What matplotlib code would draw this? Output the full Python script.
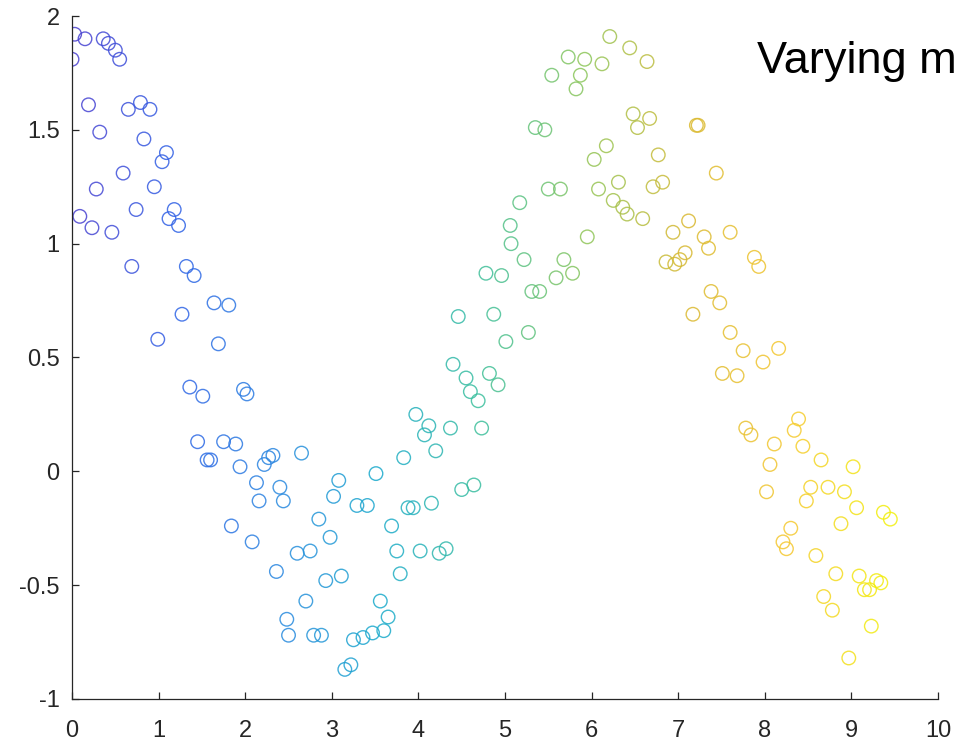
import numpy as np
import matplotlib
matplotlib.use("Agg")
import matplotlib.pyplot as plt
from matplotlib.colors import LinearSegmentedColormap, Normalize

# Messpunkte (x, y), 200 Stück
x_werte = [
    0.03, 0.15, 0.00, 0.36, 0.42, 0.50, 0.55, 0.19, 0.65, 0.79, 0.90, 0.32, 0.83, 1.09, 1.04, 0.59,
    0.95, 0.28, 0.74, 0.09, 1.18, 1.12, 1.23, 0.23, 0.46, 0.69, 1.32, 1.41, 1.64, 1.81, 1.27, 0.99,
    1.69,
    1.36, 1.51, 1.98, 2.02, 1.45, 1.75, 1.89, 1.56, 1.60, 1.94, 2.22, 2.27, 2.32, 2.13, 2.16, 2.40,
    2.44, 1.84, 2.08, 2.36, 2.48, 2.50,
    4.40, 4.55, 4.60, 4.69, 4.82, 4.92, 3.97, 4.12, 4.07, 4.37, 4.73, 4.20, 3.83, 3.51, 2.65, 3.08,
    3.02, 3.29, 3.41, 3.88, 3.94, 4.15, 4.50, 4.64, 2.85, 2.98, 3.69, 2.60, 2.75, 3.75, 4.02, 4.24,
    4.32, 2.93, 3.11, 3.79, 2.70, 2.79, 2.88, 3.56, 3.65, 3.60, 3.47, 3.36, 3.25, 3.15, 3.22,
    5.06, 5.07, 4.78, 4.96, 4.46, 4.87, 5.01,
    6.21, 6.44, 6.64, 5.73, 5.92, 6.12, 5.87, 5.54, 5.82, 5.35, 5.46, 6.48, 6.67, 6.53, 7.23, 7.21,
    6.17, 6.03, 6.77, 7.44, 5.50, 5.64, 6.08, 6.31, 6.71, 6.82, 6.25, 6.36, 6.41, 6.59, 5.17, 5.22,
    5.95, 5.68, 5.78, 5.59, 5.31, 5.40, 5.27, 6.94, 7.12, 7.30, 7.35, 7.60, 6.86, 6.96, 7.02, 7.08,
    7.38, 7.48, 7.17, 7.60,
    7.51, 7.88, 7.93, 7.75, 8.16,
    7.98, 7.68, 7.78, 7.84, 8.39, 8.34, 8.11, 8.44, 8.06, 8.65, 9.02, 8.02, 8.53, 8.73, 8.92, 8.48,
    9.06, 9.37, 9.45, 8.88, 8.30, 8.21, 8.25, 8.59, 8.82, 9.09, 9.29, 9.34, 9.15, 9.21, 8.68, 8.78,
    9.23, 8.97,
]
y_werte = [
    1.92, 1.90, 1.81, 1.90, 1.88, 1.85, 1.81, 1.61, 1.59, 1.62, 1.59, 1.49, 1.46, 1.40, 1.36, 1.31,
    1.25, 1.24, 1.15, 1.12, 1.15, 1.11, 1.08, 1.07, 1.05, 0.90, 0.90, 0.86, 0.74, 0.73, 0.69, 0.58,
    0.56,
    0.37, 0.33, 0.36, 0.34, 0.13, 0.13, 0.12, 0.05, 0.05, 0.02, 0.03, 0.06, 0.07, -0.05, -0.13, -0.07,
    -0.13, -0.24, -0.31, -0.44, -0.65, -0.72,
    0.47, 0.41, 0.35, 0.31, 0.43, 0.38, 0.25, 0.20, 0.16, 0.19, 0.19, 0.09, 0.06, -0.01, 0.08, -0.04,
    -0.11, -0.15, -0.15, -0.16, -0.16, -0.14, -0.08, -0.06, -0.21, -0.29, -0.24, -0.36, -0.35, -0.35, -0.35, -0.36,
    -0.34, -0.48, -0.46, -0.45, -0.57, -0.72, -0.72, -0.57, -0.64, -0.70, -0.71, -0.73, -0.74, -0.87, -0.85,
    1.08, 1.00, 0.87, 0.86, 0.68, 0.69, 0.57,
    1.91, 1.86, 1.80, 1.82, 1.81, 1.79, 1.74, 1.74, 1.68, 1.51, 1.50, 1.57, 1.55, 1.51, 1.52, 1.52,
    1.43, 1.37, 1.39, 1.31, 1.24, 1.24, 1.24, 1.27, 1.25, 1.27, 1.19, 1.16, 1.13, 1.11, 1.18, 0.93,
    1.03, 0.93, 0.87, 0.85, 0.79, 0.79, 0.61, 1.05, 1.10, 1.03, 0.98, 1.05, 0.92, 0.91, 0.93, 0.96,
    0.79, 0.74, 0.69, 0.61,
    0.43, 0.94, 0.90, 0.53, 0.54,
    0.48, 0.42, 0.19, 0.16, 0.23, 0.18, 0.12, 0.11, 0.03, 0.05, 0.02, -0.09, -0.07, -0.07, -0.09, -0.13,
    -0.16, -0.18, -0.21, -0.23, -0.25, -0.31, -0.34, -0.37, -0.45, -0.46, -0.48, -0.49, -0.52, -0.52, -0.55, -0.61,
    -0.68, -0.82,
]

x_ticks = [0, 1, 2, 3, 4, 5, 6, 7, 8, 9, 10]
y_ticks = [-1, -0.5, 0, 0.5, 1, 1.5, 2]
y_tick_labels = ["-1", "-0.5", "0", "0.5", "1", "1.5", "2"]
titel = "Varying m"

# parula-aehnliche Farbskala (etwas heller)
parula = LinearSegmentedColormap.from_list("parula", [
    "#4a3fcf", "#2f62e6", "#2a88e0", "#1aaacc", "#3cbf9c",
    "#8cc65a", "#d8b830", "#f5c830", "#f2f00c"])

x = np.array(x_werte)
y = np.array(y_werte)
reihenfolge = np.argsort(x)
x, y = x[reihenfolge], y[reihenfolge]

plt.rcParams["font.family"] = ["Liberation Sans", "DejaVu Sans"]
plt.rcParams["axes.unicode_minus"] = False

fig = plt.figure(figsize=(9.58, 7.42), dpi=100)
ax = fig.add_axes([0.0752, 0.058, 0.9039, 0.9204])

farben = parula(Normalize(x.min(), x.max())(x))
ax.scatter(x, y, s=95, facecolors="none", edgecolors=farben, linewidths=1.0, alpha=0.85)

ax.set_xlim(0, 10)
ax.set_ylim(-1, 2)
ax.set_xticks(x_ticks)
ax.set_yticks(y_ticks)
ax.set_yticklabels(y_tick_labels)

for seite in ["top", "right"]:
    ax.spines[seite].set_visible(False)
for seite in ["left", "bottom"]:
    ax.spines[seite].set_color("#262626")
    ax.spines[seite].set_linewidth(0.9)

ax.tick_params(direction="in", length=5, width=0.9, color="#262626",
               labelcolor="#262626", labelsize=17)
ax.tick_params(axis="y", pad=9)
ax.tick_params(axis="x", pad=15)

fig.text(757 / 958, 1 - 73 / 742, titel, fontsize=32.5, color="black",
         ha="left", va="baseline")

fig.savefig("out.png", dpi=100)
